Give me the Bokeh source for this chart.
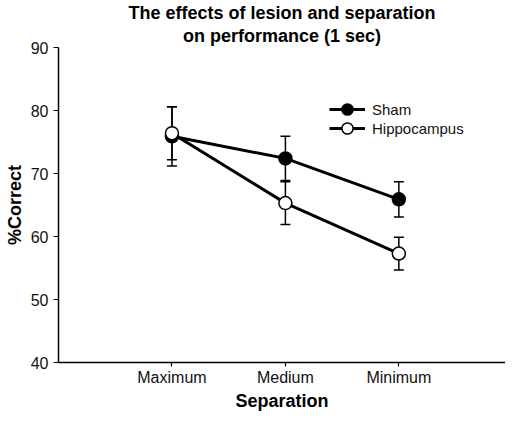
from bokeh.plotting import figure
from bokeh.models import (ColumnDataSource, Whisker, TeeHead, Legend, LegendItem,
                          Range1d, Title, FixedTicker)
from bokeh.embed import file_html
from bokeh.resources import INLINE

# ---- data ----
categories = ["Maximum", "Medium", "Minimum"]
sham_mean = [75.9, 72.4, 65.9]
sham_sem = [4.7, 3.5, 2.8]
hippo_mean = [76.4, 65.3, 57.3]
hippo_sem = [4.2, 3.4, 2.6]
y_ticks = [40, 50, 60, 70, 80, 90]

FONT = "Liberation Sans"

# category positions along the x axis (1, 2, 3)
xpos = list(range(1, len(categories) + 1))

sham = ColumnDataSource(dict(
    x=xpos, y=sham_mean,
    upper=[m + s for m, s in zip(sham_mean, sham_sem)],
    lower=[m - s for m, s in zip(sham_mean, sham_sem)]))
hippo = ColumnDataSource(dict(
    x=xpos, y=hippo_mean,
    upper=[m + s for m, s in zip(hippo_mean, hippo_sem)],
    lower=[m - s for m, s in zip(hippo_mean, hippo_sem)]))

p = figure(width=505, height=414, output_backend="svg", toolbar_location=None,
           title=None,
           x_range=Range1d(0, 3.94),
           y_range=Range1d(40, 90))
p.min_border_left = 58
p.min_border_right = 0
p.min_border_top = 47
p.min_border_bottom = 52
p.outline_line_color = None
p.background_fill_color = "white"
p.border_fill_color = "white"
p.xgrid.visible = False
p.ygrid.visible = False

# titles (second line added first: later ones are placed farther out)
t2 = Title(text="on performance (1 sec)", align="center", text_font=FONT,
           text_font_size="18px", text_font_style="bold", standoff=3,
           text_color="black")
t1 = Title(text="The effects of lesion and separation", align="center",
           text_font=FONT, text_font_size="18px", text_font_style="bold",
           standoff=0, text_color="black")
p.add_layout(t2, "above")
p.add_layout(t1, "above")

# axes
for ax in (p.xaxis[0], p.yaxis[0]):
    ax.axis_line_color = "black"
    ax.axis_line_width = 1.5
    ax.major_tick_line_color = "black"
    ax.major_tick_line_width = 1.2
    ax.major_tick_in = 0
    ax.minor_tick_line_color = None
    ax.major_label_text_font = FONT
    ax.major_label_text_font_size = "16px"
    ax.major_label_text_color = "#111111"
    ax.axis_label_text_font = FONT
    ax.axis_label_text_font_size = "18px"
    ax.axis_label_text_font_style = "bold"
    ax.axis_label_text_color = "black"

p.xaxis.axis_label = "Separation"
p.xaxis.ticker = FixedTicker(ticks=xpos)
p.xaxis.major_label_overrides = {i: c for i, c in zip(xpos, categories)}
p.xaxis.major_tick_out = 4
p.xaxis.major_label_standoff = 2
p.xaxis.axis_label_standoff = 2

p.yaxis.axis_label = "%Correct"
p.yaxis.ticker = FixedTicker(ticks=y_ticks)
p.yaxis.major_tick_out = 5
p.yaxis.major_label_standoff = 5
p.yaxis.axis_label_standoff = 3

# error bars
for src in (sham, hippo):
    w = Whisker(source=src, base="x", upper="upper", lower="lower",
                line_color="black", line_width=1.5,
                upper_head=TeeHead(size=10, line_color="black", line_width=1.5),
                lower_head=TeeHead(size=10, line_color="black", line_width=1.5))
    p.add_layout(w)

# lines
l_sham = p.line("x", "y", source=sham, line_color="black", line_width=3)
l_hip = p.line("x", "y", source=hippo, line_color="black", line_width=3)

# markers
c_sham = p.scatter("x", "y", source=sham, marker="circle", size=13,
                   fill_color="black", line_color="black", line_width=1.5)
c_hip = p.scatter("x", "y", source=hippo, marker="circle", size=13,
                  fill_color="white", line_color="black", line_width=1.5)


def make_legend(label, renderers, loc):
    lg = Legend(items=[LegendItem(label=label, renderers=renderers)], location=loc)
    lg.glyph_width = 36
    lg.glyph_height = 28
    lg.label_height = 20
    lg.label_standoff = 7
    lg.spacing = 0
    lg.padding = 0
    lg.margin = 0
    lg.border_line_color = None
    lg.background_fill_alpha = 0
    lg.label_text_font = FONT
    lg.label_text_font_size = "15px"
    lg.label_text_color = "#111111"
    return lg


p.add_layout(make_legend("Sham", [l_sham, c_sham], (271, 239)))
p.add_layout(make_legend("Hippocampus", [l_hip, c_hip], (271, 220)))

open("out.html", "w").write(file_html(p, INLINE))
